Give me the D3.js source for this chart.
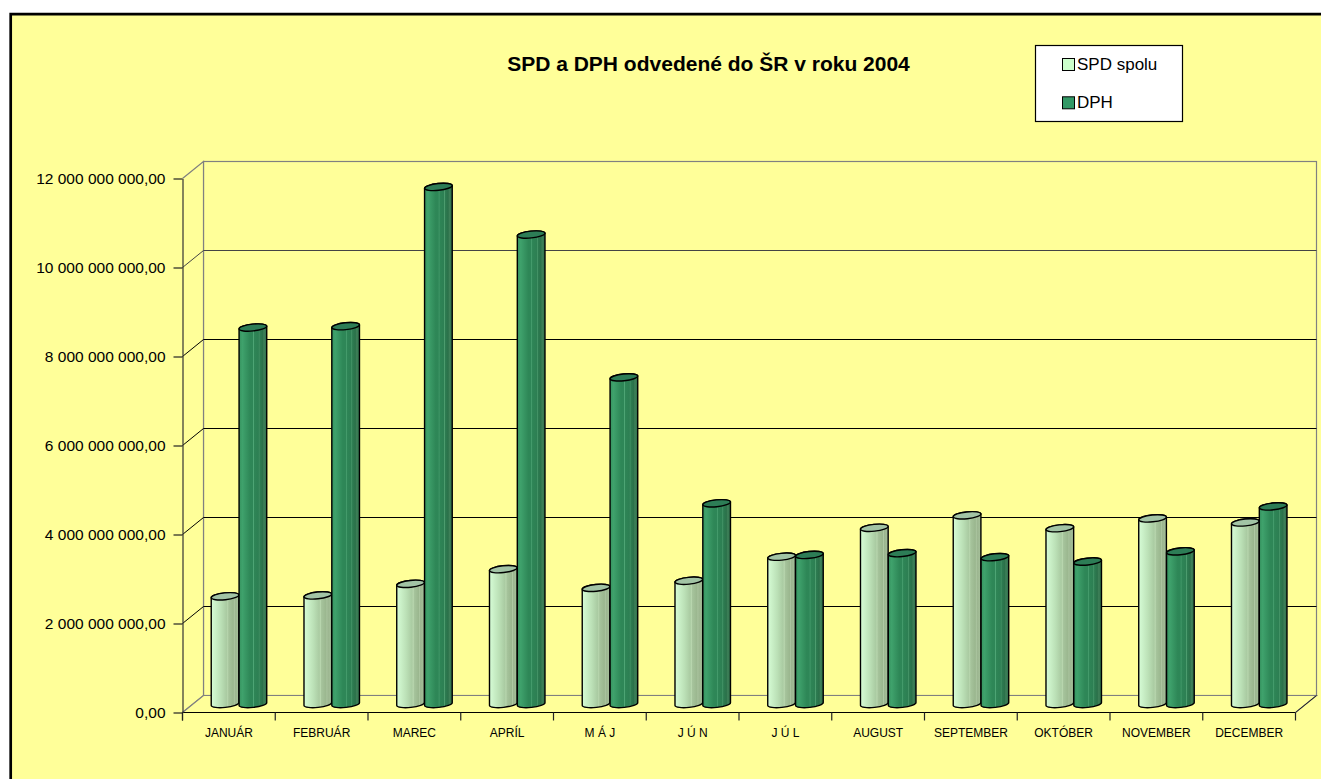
<!DOCTYPE html>
<html>
<head>
<meta charset="utf-8">
<script src="https://cdn.jsdelivr.net/npm/d3@7"></script>
<style>
  html, body { margin: 0; padding: 0; background: #ffffff; }
  svg { display: block; font-family: Arial, "Liberation Sans", sans-serif; }
</style>
</head>
<body>
<script>
// ---- data ----
const months = ["JANUÁR","FEBRUÁR","MAREC","APRÍL","M Á J","J Ú N","J Ú L","AUGUST","SEPTEMBER","OKTÓBER","NOVEMBER","DECEMBER"];
const spdSpolu = [2420000000, 2440000000, 2700000000, 3030000000, 2610000000, 2770000000, 3310000000, 3960000000, 4240000000, 3950000000, 4170000000, 4080000000];
const dph      = [8460000000, 8490000000, 11620000000, 10550000000, 7340000000, 4510000000, 3350000000, 3390000000, 3300000000, 3200000000, 3430000000, 4440000000];
const yTicks = [0, 2000000000, 4000000000, 6000000000, 8000000000, 10000000000, 12000000000];
const seriesNames = ["SPD spolu", "DPH"];
const titleText = "SPD a DPH odvedené do ŠR v roku 2004";

// ---- layout ----
const W = 1321, H = 779;
const pL = 182.5, pR = 1295.5, pB = 712.5, pT = 178.5;
const dx = 21, dy = -17; // depth offset to back wall
const yellow = "#FFFF99";

const svg = d3.select("body").append("svg").attr("width", W).attr("height", H);

const x = d3.scaleBand().domain(months).range([pL, pR]).padding(0);
const y = d3.scaleLinear().domain([0, 12000000000]).range([pB, pT]);

const loc = d3.formatLocale({decimal: ",", thousands: "\u00a0", grouping: [3], currency: ["", ""]});
const fmt = loc.format(",.2f");

// ---- gradients ----
const defs = svg.append("defs");
function grad(id, stops) {
  const g = defs.append("linearGradient").attr("id", id).attr("x1", "0").attr("x2", "1").attr("y1", "0").attr("y2", "0");
  stops.forEach(s => g.append("stop").attr("offset", s[0]).attr("stop-color", s[1]));
}
grad("gSpd", [[0, "#D6FCD6"], [0.12, "#CDF3CB"], [0.35, "#BBE0B6"], [0.55, "#AACBA2"], [0.6, "#B8D6AE"], [0.63, "#A6C49C"], [0.8, "#9AB68E"], [0.83, "#AFC9A4"], [0.86, "#9BB58F"], [1, "#A8C29C"]]);
grad("gDph", [[0, "#36935F"], [0.12, "#3FA26C"], [0.2, "#3A9A66"], [0.4, "#2E8757"], [0.5, "#2E8657"], [0.52, "#4FA676"], [0.55, "#2E8556"], [0.7, "#2D7F53"], [0.72, "#4C9C6E"], [0.75, "#2D7C51"], [0.85, "#2B714A"], [0.9, "#3E8058"], [1, "#2C6E49"]]);

// ---- chart area frame ----
svg.append("rect").attr("x", 11).attr("y", 14).attr("width", W).attr("height", H).attr("fill", yellow);
svg.append("path").attr("d", `M10.7,${H + 5} V14.2 H${W + 5}`).attr("fill", "none").attr("stroke", "#000").attr("stroke-width", 2.7);

// ---- walls ----
const y0 = y(0), y12 = y(12000000000);
svg.append("rect").attr("x", pL + dx).attr("y", y12 + dy).attr("width", pR - pL).attr("height", y0 - y12)
  .attr("fill", yellow).attr("stroke", "#808080").attr("stroke-width", 1.2);
svg.append("path").attr("d", `M${pL},${y12} L${pL + dx},${y12 + dy} L${pL + dx},${y0 + dy} L${pL},${y0}`)
  .attr("fill", yellow).attr("stroke", "#808080").attr("stroke-width", 1.2);
svg.append("path").attr("d", `M${pL},${y0} L${pL + dx},${y0 + dy} L${pR + dx},${y0 + dy} L${pR},${y0}`)
  .attr("fill", yellow).attr("stroke", "#808080").attr("stroke-width", 1.2);

// gridlines
const grid = svg.append("g");
yTicks.filter(t => t > 0 && t < 12000000000).forEach(t => {
  const yy = y(t);
  const col = t === 10000000000 ? "#444" : "#000";
  grid.append("line").attr("x1", pL).attr("y1", yy).attr("x2", pL + dx).attr("y2", yy + dy).attr("stroke", col).attr("stroke-width", 1);
  grid.append("line").attr("x1", pL + dx).attr("y1", yy + dy).attr("x2", pR + dx).attr("y2", yy + dy).attr("stroke", col).attr("stroke-width", 1);
});

svg.append("line").attr("x1", pL).attr("y1", y0).attr("x2", pR).attr("y2", y0).attr("stroke", "#000").attr("stroke-width", 1);
svg.append("line").attr("x1", pR).attr("y1", y0).attr("x2", pR + dx).attr("y2", y0 + dy).attr("stroke", "#222").attr("stroke-width", 1);

// ---- bars (cylinders) ----
const bw = x.bandwidth();
const offSpd = 0.309 * bw, cw = 0.3 * bw;
const rx = cw / 2, ry = 3.4, rot = -6;
const mdy = dy / 2;
const th = rot * Math.PI / 180;

function cylinder(g, cx, yTopC, yBotC, gradId, topFill) {
  const ex = rx * Math.cos(th), ey = rx * Math.sin(th);
  const Lt = [cx - ex, yTopC - ey], Rt = [cx + ex, yTopC + ey];
  const Lb = [cx - ex, yBotC - ey], Rb = [cx + ex, yBotC + ey];
  const d = `M${Lt[0]},${Lt[1]} L${Lb[0]},${Lb[1]} A${rx},${ry} ${rot} 0 0 ${Rb[0]},${Rb[1]} L${Rt[0]},${Rt[1]} A${rx},${ry} ${rot} 0 0 ${Lt[0]},${Lt[1]} Z`;
  g.append("path").attr("d", d).attr("fill", `url(#${gradId})`).attr("stroke", "#000").attr("stroke-width", 1.4).attr("stroke-linejoin", "round");
  g.append("ellipse").attr("cx", cx).attr("cy", yTopC).attr("rx", rx).attr("ry", ry)
    .attr("transform", `rotate(${rot},${cx},${yTopC})`)
    .attr("fill", topFill).attr("stroke", "#000").attr("stroke-width", 1.4);
}

const bars = svg.append("g");
months.forEach((m, i) => {
  const b = x(m);
  const cxS = b + offSpd + rx;
  const cxD = b + offSpd + cw + rx;
  cylinder(bars, cxS, y(spdSpolu[i]) + mdy, y(0) + mdy, "gSpd", "#A2C4A5");
  cylinder(bars, cxD, y(dph[i]) + mdy, y(0) + mdy, "gDph", "#2D7D56");
});

// ---- axes ----
const yAxis = d3.axisLeft(y).tickValues(yTicks).tickSize(9).tickSizeOuter(0).tickPadding(8).tickFormat(d => fmt(d));
const gy = svg.append("g").attr("transform", `translate(${pL},0)`).call(yAxis);
gy.select(".domain").attr("stroke", "#333").attr("stroke-width", 1.2);
gy.selectAll(".tick line").attr("stroke", "#222").attr("stroke-width", 1.2);
gy.selectAll(".tick text").attr("font-size", "15.5px").attr("fill", "#000").attr("font-family", "Arial, 'Liberation Sans', sans-serif");
svg.append("line").attr("x1", pL).attr("y1", y0).attr("x2", pL).attr("y2", y0 + 8).attr("stroke", "#222").attr("stroke-width", 1.2);

const bounds = months.map(m => x(m)).concat([pR]);
svg.append("g").selectAll("line").data(bounds).join("line")
  .attr("x1", d => d).attr("x2", d => d).attr("y1", y0).attr("y2", y0 + 8)
  .attr("stroke", "#222").attr("stroke-width", 1.2);

const xAxis = d3.axisBottom(x).tickSize(0).tickPadding(16);
const gx = svg.append("g").attr("transform", `translate(0,${y0})`).call(xAxis);
gx.select(".domain").remove();
gx.selectAll(".tick text").attr("font-size", "12px").attr("fill", "#000").attr("font-family", "Arial, 'Liberation Sans', sans-serif").style("white-space", "pre");

// ---- title ----
svg.append("text").attr("x", 708.5).attr("y", 70.5).attr("text-anchor", "middle")
  .attr("font-size", "21px").attr("font-weight", "bold").attr("fill", "#000").text(titleText);

// ---- legend ----
const lg = svg.append("g");
lg.append("rect").attr("x", 1035.5).attr("y", 45.5).attr("width", 147).attr("height", 76)
  .attr("fill", "#fff").attr("stroke", "#000").attr("stroke-width", 1.2);
const legColors = ["#CCFFCC", "#339966"];
const legY = [70, 108.3];
seriesNames.forEach((n, i) => {
  lg.append("rect").attr("x", 1062.5).attr("y", legY[i] - 11.5).attr("width", 12).attr("height", 12)
    .attr("fill", legColors[i]).attr("stroke", "#000").attr("stroke-width", 1);
  lg.append("text").attr("x", 1077).attr("y", legY[i]).attr("font-size", "17px").attr("fill", "#000").text(n);
});
</script>
</body>
</html>
